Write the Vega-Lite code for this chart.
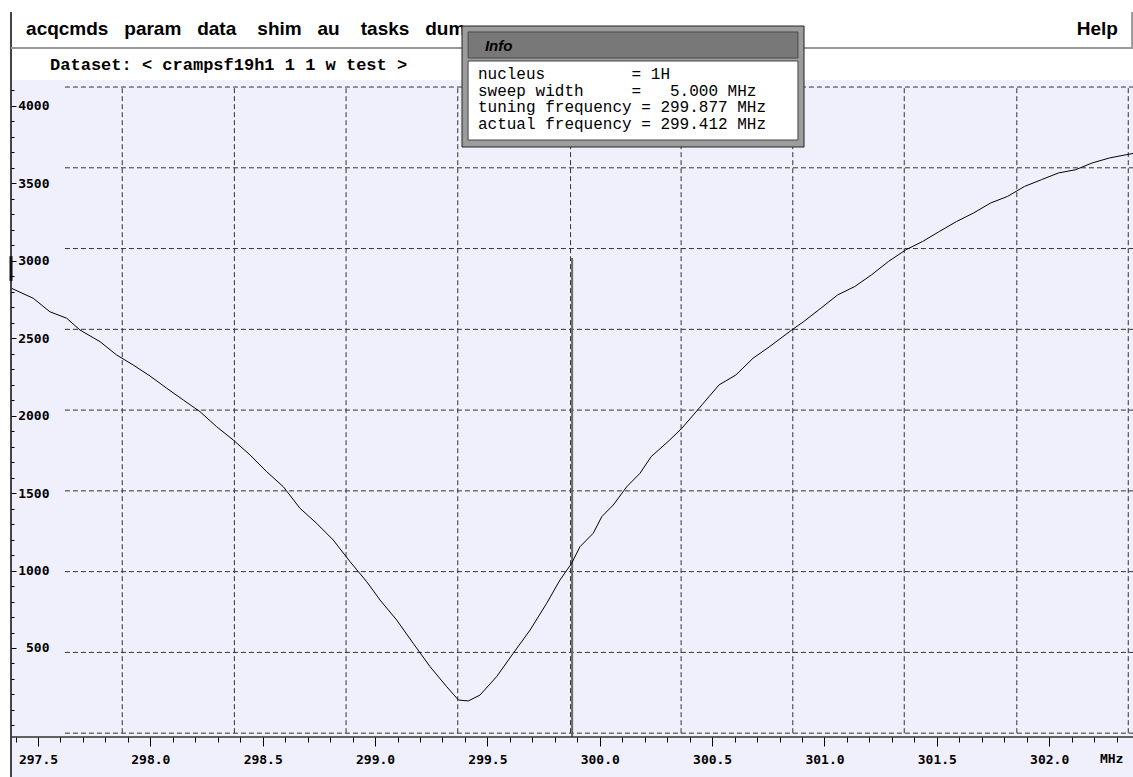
{
  "$schema": "https://vega.github.io/schema/vega-lite/v6.json",
  "width": 1133,
  "height": 777,
  "autosize": {"type": "none"},
  "padding": 0,
  "background": "#ffffff",
  "config": {"view": {"stroke": null, "fill": "#ffffff"}},
  "datasets": {
    "curve": [
      {"f": 297.383, "v": 2822}, {"f": 297.479, "v": 2758}, {"f": 297.553, "v": 2671}, {"f": 297.628, "v": 2629},
      {"f": 297.687, "v": 2553}, {"f": 297.776, "v": 2478}, {"f": 297.850, "v": 2392}, {"f": 297.924, "v": 2327},
      {"f": 297.999, "v": 2256}, {"f": 298.073, "v": 2177}, {"f": 298.147, "v": 2101}, {"f": 298.221, "v": 2026},
      {"f": 298.295, "v": 1929}, {"f": 298.369, "v": 1843}, {"f": 298.444, "v": 1746}, {"f": 298.518, "v": 1638},
      {"f": 298.592, "v": 1541}, {"f": 298.666, "v": 1402}, {"f": 298.740, "v": 1305}, {"f": 298.814, "v": 1197},
      {"f": 298.889, "v": 1057}, {"f": 298.963, "v": 928}, {"f": 299.022, "v": 810}, {"f": 299.096, "v": 681},
      {"f": 299.170, "v": 530}, {"f": 299.245, "v": 379}, {"f": 299.319, "v": 250}, {"f": 299.371, "v": 164},
      {"f": 299.415, "v": 158}, {"f": 299.467, "v": 196}, {"f": 299.541, "v": 315}, {"f": 299.615, "v": 466},
      {"f": 299.690, "v": 616}, {"f": 299.764, "v": 789}, {"f": 299.823, "v": 939}, {"f": 299.875, "v": 1047},
      {"f": 299.912, "v": 1154}, {"f": 299.971, "v": 1241}, {"f": 300.009, "v": 1348}, {"f": 300.060, "v": 1423},
      {"f": 300.120, "v": 1541}, {"f": 300.179, "v": 1628}, {"f": 300.229, "v": 1736}, {"f": 300.304, "v": 1833},
      {"f": 300.365, "v": 1918}, {"f": 300.455, "v": 2070}, {"f": 300.531, "v": 2199}, {"f": 300.606, "v": 2263},
      {"f": 300.682, "v": 2371}, {"f": 300.757, "v": 2447}, {"f": 300.855, "v": 2554}, {"f": 300.908, "v": 2608},
      {"f": 300.984, "v": 2694}, {"f": 301.059, "v": 2780}, {"f": 301.135, "v": 2834}, {"f": 301.210, "v": 2910},
      {"f": 301.285, "v": 2996}, {"f": 301.362, "v": 3071}, {"f": 301.437, "v": 3125}, {"f": 301.512, "v": 3190},
      {"f": 301.588, "v": 3254}, {"f": 301.664, "v": 3309}, {"f": 301.739, "v": 3373}, {"f": 301.815, "v": 3416},
      {"f": 301.890, "v": 3480}, {"f": 301.966, "v": 3524}, {"f": 302.041, "v": 3567}, {"f": 302.117, "v": 3588},
      {"f": 302.192, "v": 3632}, {"f": 302.268, "v": 3664}, {"f": 302.343, "v": 3685}, {"f": 302.373, "v": 3693}
    ],
    "hgrid": [
      {"v": 4122}, {"v": 3600.5}, {"v": 3079}, {"v": 2557.5}, {"v": 2036},
      {"v": 1514.5}, {"v": 993}, {"v": 471.5}, {"v": -50}
    ],
    "vgrid": [
      {"f": 297.875}, {"f": 298.374}, {"f": 298.871}, {"f": 299.368}, {"f": 299.870},
      {"f": 300.362}, {"f": 300.859}, {"f": 301.355}, {"f": 301.856}, {"f": 302.352}
    ]
  },
  "resolve": {"axis": {"x": "independent", "y": "independent"}},
  "layer": [
    {
      "data": {"values": [{}]},
      "mark": {"type": "rect", "color": "#f0f0fc"},
      "encoding": {
        "x": {"datum": 297.38, "type": "quantitative", "axis": null,
              "scale": {"domain": [297.331, 302.373], "nice": false, "zero": false}},
        "x2": {"datum": 302.373},
        "y": {"datum": -333, "type": "quantitative", "axis": null,
              "scale": {"domain": [-333, 4684], "nice": false, "zero": false}},
        "y2": {"datum": 4167.4}
      }
    },
    {
      "data": {"name": "hgrid"},
      "mark": {"type": "rule", "color": "#333333", "strokeWidth": 1, "strokeDash": [5, 3]},
      "encoding": {
        "y": {"field": "v", "type": "quantitative",
              "axis": {"orient": "right", "offset": -1122, "title": null, "domain": false, "grid": false, "labels": false, "zindex": 2,
                       "values": [0, 100, 200, 300, 400, 600, 700, 800, 900, 1100, 1200, 1300, 1400, 1600, 1700, 1800, 1900,
                                  2100, 2200, 2300, 2400, 2600, 2700, 2800, 2900, 3100, 3200, 3300, 3400, 3600, 3700, 3800, 3900, 4100],
                       "tickSize": 3, "tickColor": "#000000", "tickWidth": 1}},
        "x": {"datum": 297.62, "type": "quantitative", "axis": null},
        "x2": {"datum": 302.373}
      }
    },
    {
      "data": {"name": "vgrid"},
      "mark": {"type": "rule", "color": "#333333", "strokeWidth": 1, "strokeDash": [5, 3]},
      "encoding": {
        "x": {"field": "f", "type": "quantitative",
              "axis": {"orient": "bottom", "offset": -40, "title": null, "domain": false, "grid": false, "labels": false, "zindex": 2,
                       "values": [297.4, 297.6, 297.7, 297.8, 297.9, 298.1, 298.2, 298.3, 298.4, 298.6, 298.7, 298.8, 298.9,
                                  299.1, 299.2, 299.3, 299.4, 299.6, 299.7, 299.8, 299.9, 300.1, 300.2, 300.3, 300.4,
                                  300.6, 300.7, 300.8, 300.9, 301.1, 301.2, 301.3, 301.4, 301.6, 301.7, 301.8, 301.9, 302.1, 302.2, 302.3],
                       "tickSize": 5, "tickColor": "#000000", "tickWidth": 1}},
        "y": {"datum": -50, "type": "quantitative", "axis": null},
        "y2": {"datum": 4122}
      }
    },
    {
      "data": {"values": [{}]},
      "mark": {"type": "rule", "color": "#666666", "strokeWidth": 2},
      "encoding": {
        "x": {"datum": 299.877, "type": "quantitative", "axis": null},
        "y": {"datum": -75, "type": "quantitative", "axis": null},
        "y2": {"datum": 3018}
      }
    },
    {
      "data": {"name": "curve"},
      "mark": {"type": "line", "color": "#000000", "strokeWidth": 1},
      "encoding": {
        "x": {
          "field": "f", "type": "quantitative",
          "scale": {"domain": [297.331, 302.373], "nice": false, "zero": false},
          "axis": {
            "orient": "bottom", "offset": -40, "title": null, "domain": false, "grid": false, "zindex": 2,
            "values": [297.5, 298.0, 298.5, 299.0, 299.5, 300.0, 300.5, 301.0, 301.5, 302.0],
            "format": ".1f",
            "tickColor": "#000000", "tickWidth": 1, "tickSize": 9,
            "labelFont": "DejaVu Sans Mono", "labelFontSize": 13, "labelFontWeight": "bold", "labelColor": "#000000",
            "labelPadding": 7, "labelOverlap": false, "labelFlush": false, "labelBound": false, "labelBaseline": "top"
          }
        },
        "y": {
          "field": "v", "type": "quantitative",
          "scale": {"domain": [-333, 4684], "nice": false, "zero": false},
          "axis": {
            "orient": "right", "offset": -1122, "title": null, "domain": false, "grid": false, "zindex": 2,
            "values": [500, 1000, 1500, 2000, 2500, 3000, 3500, 4000],
            "format": "d",
            "tickColor": "#000000", "tickWidth": 1, "tickSize": 5,
            "labelFont": "DejaVu Sans Mono", "labelFontSize": 13, "labelFontWeight": "bold", "labelColor": "#000000",
            "labelAlign": "right", "labelBaseline": "middle", "labelPadding": 33,
            "labelOverlap": false, "labelFlush": false, "labelBound": false
          }
        }
      }
    },
    {
      "data": {"values": [{}]},
      "mark": {"type": "rule", "color": "#444444", "strokeWidth": 2},
      "encoding": {
        "x": {"datum": 297.38, "type": "quantitative", "axis": null},
        "y": {"datum": -333, "type": "quantitative", "axis": null},
        "y2": {"datum": 4606.5}
      }
    },
    {
      "data": {"values": [{}]},
      "mark": {"type": "rule", "color": "#111111", "strokeWidth": 3},
      "encoding": {
        "x": {"datum": 297.38, "type": "quantitative", "axis": null},
        "y": {"datum": 2870, "type": "quantitative", "axis": null},
        "y2": {"datum": 3030}
      }
    },
    {
      "data": {"values": [{}]},
      "mark": {"type": "rule", "color": "#333333", "strokeWidth": 1.5},
      "encoding": {
        "y": {"datum": -74.8, "type": "quantitative", "axis": null},
        "x": {"datum": 297.38, "type": "quantitative", "axis": null},
        "x2": {"datum": 302.373}
      }
    },
    {
      "data": {"values": [{}]},
      "mark": {"type": "rule", "color": "#999999", "strokeWidth": 2},
      "encoding": {
        "y": {"datum": 4374.1, "type": "quantitative", "axis": null},
        "x": {"datum": 297.38, "type": "quantitative", "axis": null},
        "x2": {"datum": 302.373}
      }
    },
    {
      "data": {"values": [{}]},
      "mark": {"type": "rule", "color": "#999999", "strokeWidth": 2},
      "encoding": {
        "x": {"datum": 302.369, "type": "quantitative", "axis": null},
        "y": {"datum": 4374.1, "type": "quantitative", "axis": null},
        "y2": {"datum": 4606.5}
      }
    },
    {
      "data": {"values": [{}]},
      "mark": {"type": "text", "font": "Liberation Sans", "fontSize": 19, "fontWeight": "bold", "color": "#000000", "align": "left", "baseline": "alphabetic"},
      "encoding": {
        "x": {"datum": 297.447, "type": "quantitative", "axis": null},
        "y": {"datum": 4454.8, "type": "quantitative", "axis": null},
        "text": {"value": "acqcmds\u00a0\u00a0\u00a0param\u00a0\u00a0\u00a0data\u00a0\u00a0\u00a0\u00a0shim\u00a0\u00a0\u00a0au\u00a0\u00a0\u00a0\u00a0tasks\u00a0\u00a0\u00a0dum"}
      }
    },
    {
      "data": {"values": [{}]},
      "mark": {"type": "text", "font": "Liberation Sans", "fontSize": 19, "fontWeight": "bold", "color": "#000000", "align": "right", "baseline": "alphabetic"},
      "encoding": {
        "x": {"datum": 302.306, "type": "quantitative", "axis": null},
        "y": {"datum": 4454.8, "type": "quantitative", "axis": null},
        "text": {"value": "Help"}
      }
    },
    {
      "data": {"values": [{}]},
      "mark": {"type": "text", "font": "Liberation Mono", "fontSize": 17, "fontWeight": "bold", "color": "#000000", "align": "left", "baseline": "middle"},
      "encoding": {
        "x": {"datum": 297.554, "type": "quantitative", "axis": null},
        "y": {"datum": 4264.3, "type": "quantitative", "axis": null},
        "text": {"value": "Dataset:\u00a0<\u00a0crampsf19h1\u00a01\u00a01\u00a0w\u00a0test\u00a0>"}
      }
    },
    {
      "data": {"values": [{}]},
      "mark": {"type": "rect", "color": "#9c9c9c", "stroke": "#222222", "strokeWidth": 1},
      "encoding": {
        "x": {"datum": 299.387, "type": "quantitative", "axis": null},
        "x2": {"datum": 300.909},
        "y": {"datum": 3734.8, "type": "quantitative", "axis": null},
        "y2": {"datum": 4516.1}
      }
    },
    {
      "data": {"values": [{}]},
      "mark": {"type": "rect", "color": "#787878", "stroke": "#4a4a4a", "strokeWidth": 1},
      "encoding": {
        "x": {"datum": 299.414, "type": "quantitative", "axis": null},
        "x2": {"datum": 300.882},
        "y": {"datum": 4309.5, "type": "quantitative", "axis": null},
        "y2": {"datum": 4477.4}
      }
    },
    {
      "data": {"values": [{}]},
      "mark": {"type": "rect", "color": "#ffffff", "stroke": "#444444", "strokeWidth": 1},
      "encoding": {
        "x": {"datum": 299.414, "type": "quantitative", "axis": null},
        "x2": {"datum": 300.882},
        "y": {"datum": 3780.0, "type": "quantitative", "axis": null},
        "y2": {"datum": 4290.1}
      }
    },
    {
      "data": {"values": [{}]},
      "mark": {"type": "text", "font": "Liberation Sans", "fontSize": 15, "fontStyle": "italic", "fontWeight": "bold", "color": "#000000", "align": "left", "baseline": "middle"},
      "encoding": {
        "x": {"datum": 299.489, "type": "quantitative", "axis": null},
        "y": {"datum": 4387, "type": "quantitative", "axis": null},
        "text": {"value": "Info"}
      }
    },
    {
      "data": {"values": [{}]},
      "mark": {"type": "text", "font": "Liberation Mono", "fontSize": 16, "color": "#000000", "align": "left", "baseline": "middle", "lineHeight": 16.5},
      "encoding": {
        "x": {"datum": 299.458, "type": "quantitative", "axis": null},
        "y": {"datum": 4206, "type": "quantitative", "axis": null},
        "text": {"value": [
          "nucleus\u00a0\u00a0\u00a0\u00a0\u00a0\u00a0\u00a0\u00a0\u00a0=\u00a01H",
          "sweep\u00a0width\u00a0\u00a0\u00a0\u00a0\u00a0=\u00a0\u00a0\u00a05.000\u00a0MHz",
          "tuning\u00a0frequency\u00a0=\u00a0299.877\u00a0MHz",
          "actual\u00a0frequency\u00a0=\u00a0299.412\u00a0MHz"
        ]}
      }
    },
    {
      "data": {"values": [{}]},
      "mark": {"type": "text", "font": "DejaVu Sans Mono", "fontSize": 13, "fontWeight": "bold", "color": "#000000", "align": "center", "baseline": "middle"},
      "encoding": {
        "x": {"datum": 302.278, "type": "quantitative", "axis": null},
        "y": {"datum": -216.9, "type": "quantitative", "axis": null},
        "text": {"value": "MHz"}
      }
    }
  ]
}
